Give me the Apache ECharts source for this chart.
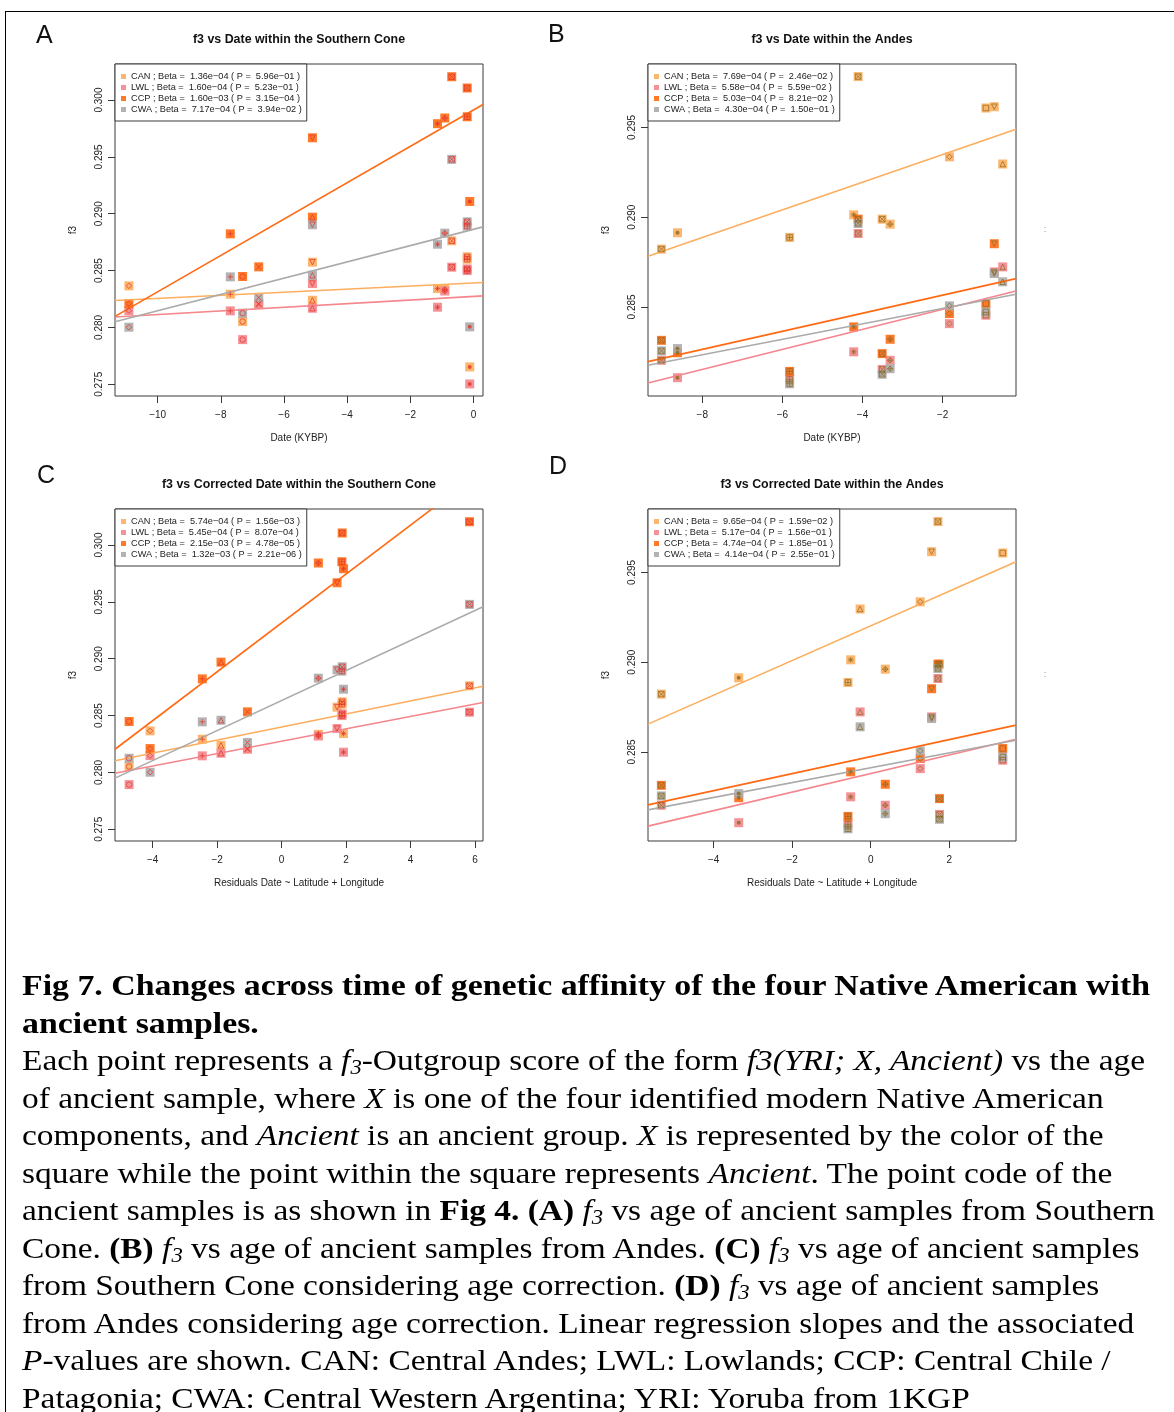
<!DOCTYPE html>
<html>
<head>
<meta charset="utf-8">
<script src="https://cdn.jsdelivr.net/npm/echarts@6/dist/echarts.min.js"></script>
<style>
  html, body { margin: 0; padding: 0; background: #fff; }
  body { width: 1174px; height: 1412px; position: relative; overflow: hidden; }
  #chart { position: absolute; left: 0; top: 0; width: 1174px; height: 950px; }
  #frame { position: absolute; left: 5px; top: 11px; width: 1220px; height: 1500px; border: 1.5px solid #000; pointer-events: none; }
  #caption { position: absolute; left: 22px; top: 966px; font-family: 'Liberation Serif', serif; font-size: 30px; color: #000; }
  #caption > div { white-space: nowrap; height: 37.5px; line-height: 37.5px; transform-origin: 0 50%; }
  #caption > div.b { font-weight: bold; }
  #caption sub { font-size: 0.68em; line-height: 0; vertical-align: -0.22em; }
</style>
</head>
<body>
<div id="chart"></div>
<div id="frame"></div>
<div id="caption">
  <div class="b"><span>Fig 7. Changes across time of genetic affinity of the four Native American with</span></div>
  <div class="b"><span>ancient samples.</span></div>
  <div><span>Each point represents a <i>f<sub>3</sub></i>-Outgroup score of the form <i>f3(YRI; X, Ancient)</i> vs the age</span></div>
  <div><span>of ancient sample, where <i>X</i> is one of the four identified modern Native American</span></div>
  <div><span>components, and <i>Ancient</i> is an ancient group. <i>X</i> is represented by the color of the</span></div>
  <div><span>square while the point within the square represents <i>Ancient</i>. The point code of the</span></div>
  <div><span>ancient samples is as shown in <b>Fig 4.</b> <b>(A)</b> <i>f<sub>3</sub></i> vs age of ancient samples from Southern</span></div>
  <div><span>Cone. <b>(B)</b> <i>f<sub>3</sub></i> vs age of ancient samples from Andes. <b>(C)</b> <i>f<sub>3</sub></i> vs age of ancient samples</span></div>
  <div><span>from Southern Cone considering age correction. <b>(D)</b> <i>f<sub>3</sub></i> vs age of ancient samples</span></div>
  <div><span>from Andes considering age correction. Linear regression slopes and the associated</span></div>
  <div><span><i>P</i>-values are shown. CAN: Central Andes; LWL: Lowlands; CCP: Central Chile /</span></div>
  <div><span>Patagonia; CWA: Central Western Argentina; YRI: Yoruba from 1KGP</span></div>
</div>
<script>
const components = ['CAN', 'LWL', 'CCP', 'CWA']
const componentColors = ['#fcae5e', '#f4868c', '#ff6a14', '#ababab']

// Southern Cone samples (panels A and C), f3 values per modern component
const scDate = [-10.91, -7.70, -7.31, -6.80, -5.10, -5.10, -1.14, -0.91, -0.69, -0.20, -0.20, -0.12]
const scCorrDate = [-4.08, -2.46, -4.73, -1.06, 1.72, -1.88, 1.92, 1.14, 5.83, 1.88, 1.87, null]
const scSymbol = ['diamond', 'plus', 'circle', 'cross', 'triDown', 'triUp', 'star', 'diamondPlus', 'boxX', 'boxX', 'boxPlus', 'dot']
const scCAN = [0.28366, 0.28292, 0.28052, 0.28210, 0.28574, 0.28239, 0.28342, 0.28335, 0.28762, 0.28621, 0.28600, 0.27653]
const scLWL = [0.28148, 0.28146, 0.27893, 0.28204, 0.28386, 0.28169, 0.28178, 0.28320, 0.28530, 0.28515, 0.28500, 0.27503]
const scCCP = [0.28210, 0.28823, 0.28448, 0.28533, 0.29668, 0.28970, 0.29792, 0.29842, 0.30205, 0.30106, 0.29853, 0.29108]
const scCWA = [0.28002, 0.28445, 0.28125, 0.28263, 0.28903, 0.28459, 0.28732, 0.28829, 0.29478, 0.28929, 0.28891, 0.28005]
const scBeta = [1.36e-4, 1.60e-4, 1.60e-3, 7.17e-4]
const scP = [5.96e-1, 5.23e-1, 3.15e-4, 3.94e-2]
const scIntercept = [0.28391, 0.28273, 0.29913, 0.28863]
const scCorrBeta = [5.74e-4, 5.45e-4, 2.15e-3, 1.32e-3]
const scCorrP = [1.56e-3, 8.07e-4, 4.78e-5, 2.21e-6]
const scCorrIntercept = [0.28400, 0.28275, 0.29315, 0.28632]

// Andes samples (panels B and D)
const anDate = [-9.02, -8.62, -5.82, -4.22, -4.11, -3.51, -3.31, -1.83, -0.92, -0.71, -0.50]
const anCorrDate = [-5.33, -3.36, -0.58, -0.51, 1.71, 1.75, 0.37, 1.26, 3.36, 1.55, -0.27]
const anSymbol = ['boxX', 'dot', 'boxPlus', 'star', 'boxX', 'boxX', 'diamondPlus', 'diamond', 'square', 'triDown', 'triUp']
const anCAN = [0.28822, 0.28913, 0.28887, 0.29013, 0.29783, 0.28989, 0.28961, 0.29336, 0.29608, 0.29615, 0.29296]
const anLWL = [0.28203, 0.28106, 0.28097, 0.28250, 0.28909, 0.28152, 0.28203, 0.28407, 0.28454, 0.28695, 0.28723]
const anCCP = [0.28314, 0.28245, 0.28141, 0.28389, 0.28989, 0.28240, 0.28320, 0.28463, 0.28519, 0.28852, null]
const anCWA = [0.28255, 0.28268, 0.28072, null, 0.28965, 0.28125, 0.28156, 0.28506, 0.28472, 0.28686, 0.28640]
const anBeta = [7.69e-4, 5.58e-4, 5.03e-4, 4.30e-4]
const anP = [2.46e-2, 5.59e-2, 8.21e-2, 1.50e-1]
const anIntercept = [0.29502, 0.28598, 0.28666, 0.28578]
const anCorrBeta = [9.65e-4, 5.17e-4, 4.74e-4, 4.14e-4]
const anCorrP = [1.59e-2, 1.56e-1, 1.85e-1, 2.55e-1]
const anCorrIntercept = [0.29202, 0.28380, 0.28474, 0.28412]

// tick labels
const ticksDateSC = [-10, -8, -6, -4, -2, 0]
const ticksDateAn = [-8, -6, -4, -2]
const ticksCorrSC = [-4, -2, 0, 2, 4, 6]
const ticksCorrAn = [-4, -2, 0, 2]
const ticksF3SC = [0.275, 0.280, 0.285, 0.290, 0.295, 0.300]
const ticksF3An = [0.285, 0.290, 0.295]

const FONT = 'Liberation Sans, Arial, sans-serif'
const SYMBOLS = {
  diamond: 'path://M5,0L10,5L5,10L0,5Z',
  plus: 'path://M5,0L5,10M0,5L10,5',
  circle: 'path://M10,5A5,5,0,1,1,0,5A5,5,0,1,1,10,5Z',
  cross: 'path://M0,0L10,10M10,0L0,10',
  triDown: 'path://M0,1L10,1L5,9.5Z',
  triUp: 'path://M5,0.5L10,9L0,9Z',
  star: 'path://M5,0L5,10M0,5L10,5M1.5,1.5L8.5,8.5M8.5,1.5L1.5,8.5',
  diamondPlus: 'path://M5,0L10,5L5,10L0,5ZM5,0L5,10M0,5L10,5',
  boxX: 'path://M0,0L10,0L10,10L0,10ZM0,0L10,10M10,0L0,10',
  boxPlus: 'path://M0,0L10,0L10,10L0,10ZM5,0L5,10M0,5L10,5',
  square: 'path://M0,0L10,0L10,10L0,10Z',
  dot: 'circle'
}

const panels = [
  { letter: 'A', letterPos: [36, 36], title: 'f3 vs Date within the Southern Cone', xName: 'Date (KYBP)',
    x: scDate, sym: scSymbol, f3: [scCAN, scLWL, scCCP, scCWA], beta: scBeta, p: scP, icpt: scIntercept,
    xTicks: ticksDateSC, yTicks: ticksF3SC, xRange: [-11.35, 0.30], yRange: [0.27397, 0.30317],
    left: 115, top: 64, ink: '#e2352b' },
  { letter: 'B', letterPos: [548, 35], title: 'f3 vs Date within the Andes', xName: 'Date (KYBP)',
    x: anDate, sym: anSymbol, f3: [anCAN, anLWL, anCCP, anCWA], beta: anBeta, p: anP, icpt: anIntercept,
    xTicks: ticksDateAn, yTicks: ticksF3An, xRange: [-9.356, -0.168], yRange: [0.28004, 0.29853],
    left: 648, top: 64, ink: '#8a6a22' },
  { letter: 'C', letterPos: [37, 476], title: 'f3 vs Corrected Date within the Southern Cone', xName: 'Residuals Date ~ Latitude + Longitude',
    x: scCorrDate, sym: scSymbol, f3: [scCAN, scLWL, scCCP, scCWA], beta: scCorrBeta, p: scCorrP, icpt: scCorrIntercept,
    xTicks: ticksCorrSC, yTicks: ticksF3SC, xRange: [-5.168, 6.248], yRange: [0.27397, 0.30317],
    left: 115, top: 509, ink: '#e2352b' },
  { letter: 'D', letterPos: [549, 467], title: 'f3 vs Corrected Date within the Andes', xName: 'Residuals Date ~ Latitude + Longitude',
    x: anCorrDate, sym: anSymbol, f3: [anCAN, anLWL, anCCP, anCWA], beta: anCorrBeta, p: anCorrP, icpt: anCorrIntercept,
    xTicks: ticksCorrAn, yTicks: ticksF3An, xRange: [-5.670, 3.698], yRange: [0.28004, 0.29853],
    left: 648, top: 509, ink: '#8a6a22' }
]

const PLOT_W = 368
const PLOT_H = 332

function sci(v) {
  const [m, e] = v.toExponential(2).split('e')
  const n = parseInt(e, 10)
  return m + 'e' + (n < 0 ? '\u2212' : '+') + String(Math.abs(n)).padStart(2, '0')
}

const grid = []
const xAxis = []
const yAxis = []
const legend = []
const series = []
const graphic = []

panels.forEach((pn, gi) => {
  grid.push({ left: pn.left, top: pn.top, width: PLOT_W, height: PLOT_H, show: true,
    borderColor: '#3a3a3a', borderWidth: 1, backgroundColor: 'transparent', outerBoundsMode: 'none' })

  xAxis.push({
    type: 'value', gridIndex: gi, min: pn.xRange[0], max: pn.xRange[1],
    axisLine: { show: false, onZero: false }, splitLine: { show: false },
    axisTick: { show: true, length: 7, customValues: pn.xTicks, lineStyle: { color: '#3a3a3a' } },
    axisLabel: { customValues: pn.xTicks, margin: 14, fontSize: 10, fontFamily: FONT, color: '#222',
      formatter: v => String(v).replace('-', '\u2212') },
    name: pn.xName, nameLocation: 'middle', nameGap: 37,
    nameTextStyle: { fontSize: 10, fontFamily: FONT, color: '#222' }
  })
  yAxis.push({
    type: 'value', gridIndex: gi, min: pn.yRange[0], max: pn.yRange[1],
    axisLine: { show: false, onZero: false }, splitLine: { show: false },
    axisTick: { show: true, length: 7, customValues: pn.yTicks, lineStyle: { color: '#3a3a3a' } },
    axisLabel: { customValues: pn.yTicks, rotate: 90, margin: 11, fontSize: 10, fontFamily: FONT, color: '#222',
      formatter: v => v.toFixed(3) },
    name: 'f3', nameLocation: 'middle', nameGap: 37, nameRotate: 90,
    nameTextStyle: { fontSize: 10, fontFamily: FONT, color: '#222' }
  })

  const names = []
  const inner = []
  components.forEach((comp, ci) => {
    const name = `${comp} ; Beta =  ${sci(pn.beta[ci])} ( P =  ${sci(pn.p[ci])} )`
    names.push(name)
    const pts = []
    pn.x.forEach((xv, i) => {
      const yv = pn.f3[ci][i]
      if (xv === null || yv === null) return
      pts.push([xv, yv])
      const s = pn.sym[i]
      inner.push(s === 'dot'
        ? { value: [xv, yv], symbol: 'circle', symbolSize: 4, itemStyle: { color: pn.ink, borderWidth: 0 } }
        : { value: [xv, yv], symbol: SYMBOLS[s], symbolSize: 5.5 })
    })
    series.push({
      type: 'scatter', name, xAxisIndex: gi, yAxisIndex: gi, data: pts,
      symbol: 'rect', symbolSize: 9, z: 2, silent: true,
      itemStyle: { color: componentColors[ci], opacity: 0.9 }
    })
  })

  components.forEach((comp, ci) => {
    const [x0, x1] = pn.xRange
    series.push({
      type: 'line', name: 'fit ' + pn.letter + ' ' + comp, xAxisIndex: gi, yAxisIndex: gi,
      data: [[x0, pn.icpt[ci] + pn.beta[ci] * x0], [x1, pn.icpt[ci] + pn.beta[ci] * x1]],
      showSymbol: false, silent: true, z: 3, clip: true,
      lineStyle: { color: componentColors[ci], width: 1.6 }
    })
  })

  series.push({
    type: 'scatter', name: 'ancient ' + pn.letter, xAxisIndex: gi, yAxisIndex: gi, data: inner,
    z: 4, silent: true,
    itemStyle: { color: 'transparent', borderColor: pn.ink, borderWidth: 0.9 }
  })

  legend.push({
    data: names, left: pn.left, top: pn.top, orient: 'vertical', selectedMode: false,
    icon: 'rect', itemWidth: 5, itemHeight: 5, itemGap: 0, padding: [7, 5, 6, 6],
    backgroundColor: '#fff', borderColor: '#3a3a3a', borderWidth: 1, borderRadius: 0,
    textStyle: { fontSize: 9.2, fontFamily: FONT, color: '#222', lineHeight: 11 }
  })

  graphic.push({
    type: 'text', x: pn.left + PLOT_W / 2, y: pn.top - 24,
    style: { text: pn.title, align: 'center', verticalAlign: 'middle',
      font: 'bold 12.4px ' + FONT, fill: '#111' }
  })
  graphic.push({
    type: 'text', x: pn.letterPos[0], y: pn.letterPos[1],
    style: { text: pn.letter, align: 'left', verticalAlign: 'middle', font: '25px ' + FONT, fill: '#111' }
  })
})

graphic.push({ type: 'text', x: 1045, y: 230, style: { text: ':', align: 'center', verticalAlign: 'middle', font: '9px ' + FONT, fill: '#888' } })
graphic.push({ type: 'text', x: 1045, y: 675, style: { text: ':', align: 'center', verticalAlign: 'middle', font: '9px ' + FONT, fill: '#888' } })

const chart = echarts.init(document.getElementById('chart'))
chart.setOption({
  animation: false,
  backgroundColor: 'transparent',
  grid, xAxis, yAxis, legend, series, graphic
})

// fit caption lines to the reference's line lengths
const lines = document.querySelectorAll('#caption > div')
const boldScale = 1128 / lines[0].firstElementChild.getBoundingClientRect().width
const regScale = 1123 / lines[2].firstElementChild.getBoundingClientRect().width
lines.forEach((ln, i) => {
  ln.style.transform = `scaleX(${i < 2 ? boldScale : regScale})`
})
</script>
</body>
</html>
